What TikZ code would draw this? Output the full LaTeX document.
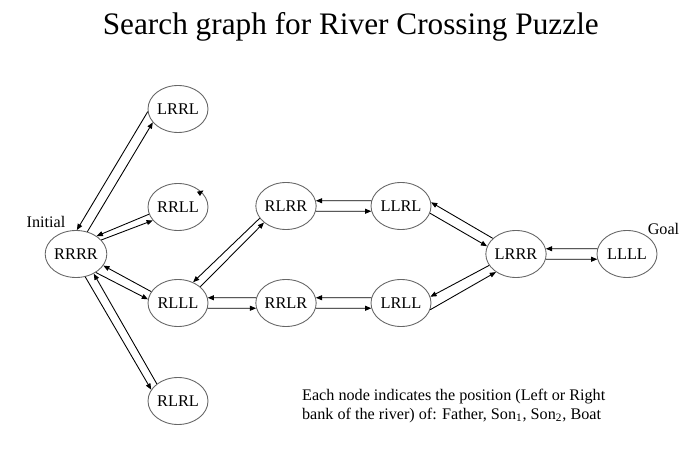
\documentclass[tikz,border=0pt]{standalone}
\usepackage{fontspec}
\setmainfont{Liberation Serif}
\usetikzlibrary{shapes.geometric,arrows.meta}
\begin{document}
\begin{tikzpicture}[cfg/.style={draw=black!60,ellipse,inner sep=0pt,minimum width=1.2cm,minimum height=0.94cm,font=\fontsize{9.3}{11}\selectfont},>={Triangle[length=3.5pt,width=2.8pt]},line width=0.5pt]
    \useasboundingbox (0,0) rectangle (14,9.32);
    \node[anchor=base,font=\fontsize{17.8}{20}\selectfont] (title) at (7.016,8.62) {Search graph for River Crossing Puzzle};
    \node[cfg] (rrrr) at (1.52,4.24) {RRRR};
    \node[cfg] (lrrl) at (3.56,7.14) {LRRL};
    \node[cfg] (rrll) at (3.56,5.18) {RRLL};
    \node[cfg] (rlll) at (3.56,3.26) {RLLL};
    \node[cfg] (rlrl) at (3.56,1.30) {RLRL};
    \node[cfg] (rlrr) at (5.72,5.20) {RLRR};
    \node[cfg] (llrl) at (8.02,5.20) {LLRL};
    \node[cfg] (rrlr) at (5.72,3.26) {RRLR};
    \node[cfg] (lrll) at (8.02,3.26) {LRLL};
    \node[cfg] (lrrr) at (10.32,4.24) {LRRR};
    \node[cfg] (llll) at (12.54,4.24) {LLLL};
    \node[font=\fontsize{9.2}{11}\selectfont] (init) at (0.92,4.88) {Initial};
    \node[font=\fontsize{9.2}{11}\selectfont] (goal) at (13.27,4.74) {Goal};
    \draw[->] (lrrl.185) -- (rrrr.88);
    \draw[->] (rrrr.63) -- (lrrl.208);
    \draw[->] (rrll.194) -- (rrrr.41);
    \draw[->] (rrrr.29) -- (rrll.208);
    \draw[->] (rlll.157) -- (rrrr.337);
    \draw[->] (rrrr.317) -- (rlll.173);
    \draw[->] (rrrr.292) -- (rlrl.157);
    \draw[->] (rlrl.141) -- (rrrr.312);
    \draw[->] (rlrr.205) -- (rlll.54);
    \draw[->] (rlll.36) -- (rlrr.217);
    \draw[->] (rrlr.170) -- (rlll.10);
    \draw[->] (rlll.-10) -- (rrlr.190);
    \draw[->] (llrl.170) -- (rlrr.10);
    \draw[->] (rlrr.-10) -- (llrl.190);
    \draw[->] (lrll.170) -- (rrlr.10);
    \draw[->] (rrlr.-10) -- (lrll.190);
    \draw[->] (lrrr.146) -- (llrl.7);
    \draw[->] (llrl.-14) -- (lrrr.165);
    \draw[->] (lrrr.203) -- (lrll.12);
    \draw[->] (lrll.-13) -- (lrrr.222);
    \draw[->] (llll.170) -- (lrrr.10);
    \draw[->] (lrrr.-10) -- (llll.190);
    \draw[->] (rrll.33) -- ++(35:0.05);
    \node[anchor=north west,align=left,inner sep=0pt,font=\fontsize{9.2}{10.8}\selectfont] (note) at (6.034,1.544) {Each node indicates the position (Left or Right\\bank of the river) of: Father, Son\textsubscript{1}, Son\textsubscript{2}, Boat};
\end{tikzpicture}
\end{document}
